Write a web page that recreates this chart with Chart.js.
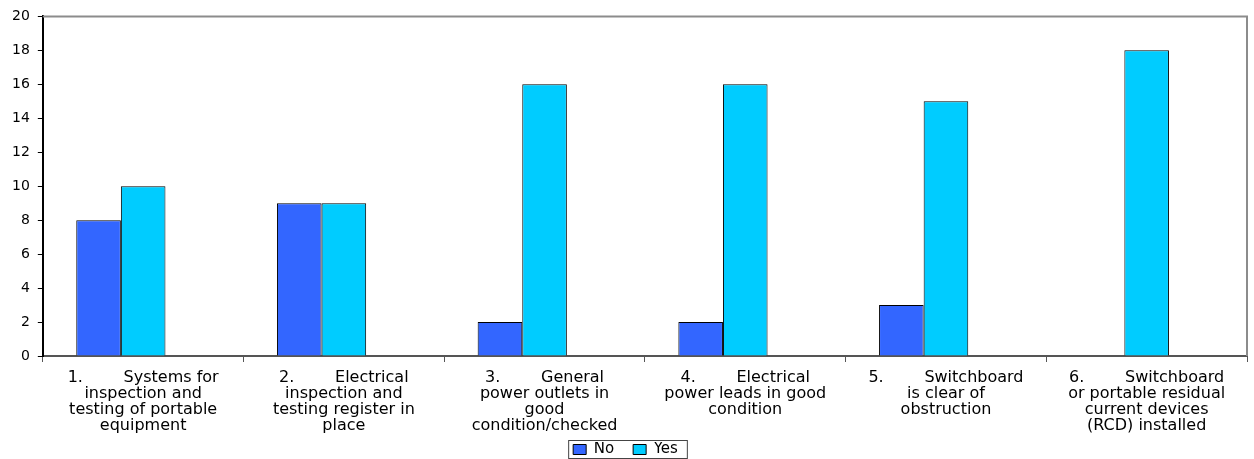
<!DOCTYPE html>
<html lang="en">
<head>
    <meta charset="UTF-8">
    <title>Electrical Safety Checklist</title>
    <script src="https://cdn.jsdelivr.net/npm/chart.js"></script>
    <style>
        body { margin: 0; background: #fff; }
        #wrap { width: 1254px; height: 459px; }
    </style>
</head>
<body>
    <div id="wrap"><canvas id="safetyChart"></canvas></div>
    <script>
        // data
        const categories = [
            ['1.        Systems for', 'inspection and', 'testing of portable', 'equipment'],
            ['2.        Electrical', 'inspection and', 'testing register in', 'place'],
            ['3.        General', 'power outlets in', 'good', 'condition/checked'],
            ['4.        Electrical', 'power leads in good', 'condition'],
            ['5.        Switchboard', 'is clear of', 'obstruction'],
            ['6.        Switchboard', 'or portable residual', 'current devices', '(RCD) installed']
        ];
        const noValues = [8, 9, 2, 2, 3, 0];
        const yesValues = [10, 9, 16, 16, 15, 18];
        const yTicks = [0, 2, 4, 6, 8, 10, 12, 14, 16, 18, 20];

        // outline of the plot area and the legend box
        const frame = {
            id: 'frame',
            beforeDatasetsDraw(chart) {
                const { ctx, chartArea: a } = chart;
                ctx.save();
                ctx.strokeStyle = '#8c8c8c';
                ctx.lineWidth = 2;
                ctx.beginPath();
                ctx.moveTo(a.left, a.top);
                ctx.lineTo(a.right, a.top);
                ctx.lineTo(a.right, a.bottom);
                ctx.stroke();
                ctx.restore();
            },
            afterDraw(chart) {
                const lg = chart.legend;
                const { ctx } = chart;
                const items = lg.legendHitBoxes;
                if (!items.length) return;
                const x0 = items[0].left - 5;
                const last = items[items.length - 1];
                const x1 = last.left + last.width + 9;
                ctx.save();
                ctx.strokeStyle = '#444';
                ctx.lineWidth = 1;
                ctx.strokeRect(x0 + 0.5, items[0].top - 1.5, x1 - x0, 18);
                ctx.restore();
            }
        };

        Chart.defaults.font.family = '"DejaVu Sans", Verdana, sans-serif';
        Chart.defaults.color = '#000';

        new Chart(document.getElementById('safetyChart'), {
            type: 'bar',
            data: {
                labels: categories,
                datasets: [
                    { label: 'No', data: noValues, backgroundColor: '#3366FF', borderColor: '#000', borderWidth: 1 },
                    { label: 'Yes', data: yesValues, backgroundColor: '#00CCFF', borderColor: '#000', borderWidth: 1 },
                    { label: '', data: [], backgroundColor: 'transparent' }
                ]
            },
            options: {
                responsive: true,
                maintainAspectRatio: false,
                animation: false,
                categoryPercentage: 3 / 4.5,
                barPercentage: 1,
                layout: { padding: { top: -1, right: 7, left: 4, bottom: -8 } },
                plugins: {
                    tooltip: { enabled: false },
                    legend: {
                        position: 'bottom',
                        labels: {
                            boxWidth: 13,
                            boxHeight: 10,
                            padding: 0,
                            font: { size: 15, lineHeight: 1 },
                            filter: item => item.text.trim() !== '',
                            generateLabels: chart => Chart.defaults.plugins.legend.labels.generateLabels(chart)
                                .map((item, i) => Object.assign(item, { text: i === 0 ? item.text + '    ' : item.text }))
                        }
                    }
                },
                scales: {
                    x: {
                        grid: { drawOnChartArea: false, drawTicks: true, tickLength: 6, color: '#555', offset: true },
                        border: { color: '#555', width: 2 },
                        ticks: { maxRotation: 0, autoSkip: false, font: { size: 16, lineHeight: 1 }, padding: 8 }
                    },
                    y: {
                        min: 0,
                        max: 20,
                        afterBuildTicks: axis => { axis.ticks = yTicks.map(v => ({ value: v })); },
                        grid: { drawOnChartArea: false, drawTicks: true, tickLength: 5, color: '#000' },
                        border: { color: '#000', width: 2 },
                        ticks: { font: { size: 14 }, padding: 8 }
                    }
                }
            },
            plugins: [frame]
        });
    </script>
</body>
</html>
